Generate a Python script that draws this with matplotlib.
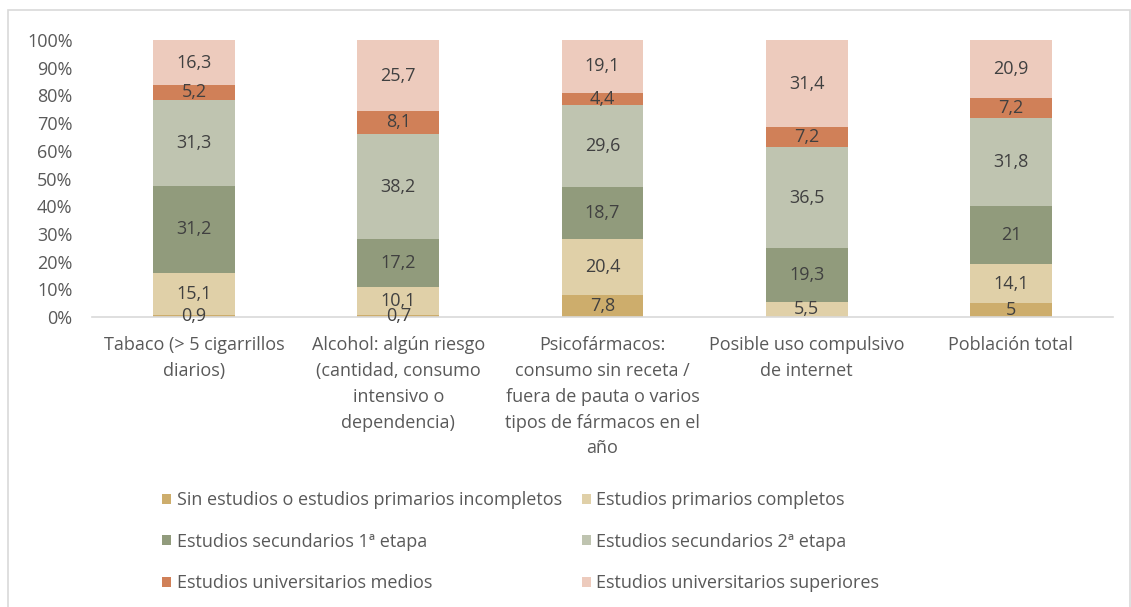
import matplotlib
matplotlib.use("Agg")
import matplotlib.pyplot as plt
from matplotlib.patches import Patch, Rectangle

plt.rcParams['font.family'] = ['Open Sans', 'DejaVu Sans']

categories = [
    "Tabaco (> 5 cigarrillos\ndiarios)",
    "Alcohol: algún riesgo\n(cantidad, consumo\nintensivo o\ndependencia)",
    "Psicofármacos:\nconsumo sin receta /\nfuera de pauta o varios\ntipos de fármacos en el\naño",
    "Posible uso compulsivo\nde internet",
    "Población total",
]
series_names = [
    "Sin estudios o estudios primarios incompletos",
    "Estudios primarios completos",
    "Estudios secundarios 1ª etapa",
    "Estudios secundarios 2ª etapa",
    "Estudios universitarios medios",
    "Estudios universitarios superiores",
]
sin_estudios = [0.9, 0.7, 7.8, 0.0, 5]
primarios = [15.1, 10.1, 20.4, 5.5, 14.1]
secundarios_1 = [31.2, 17.2, 18.7, 19.3, 21]
secundarios_2 = [31.3, 38.2, 29.6, 36.5, 31.8]
univ_medios = [5.2, 8.1, 4.4, 7.2, 7.2]
univ_superiores = [16.3, 25.7, 19.1, 31.4, 20.9]
series_values = [sin_estudios, primarios, secundarios_1, secundarios_2, univ_medios, univ_superiores]
colors = ["#CDAD6C", "#E0D0A8", "#919B7C", "#BFC4B0", "#D08058", "#EDCBBD"]
y_ticks = [0, 10, 20, 30, 40, 50, 60, 70, 80, 90, 100]

FS = 13
W, H = 1131, 607
fig = plt.figure(figsize=(W / 100, H / 100), dpi=100)
ax = fig.add_axes([92 / W, 1 - 317 / H, (1113 - 92) / W, (317 - 40) / H])

x = list(range(len(categories)))
bottom = [0.0] * len(categories)
for name, vals, col in zip(series_names, series_values, colors):
    bars = ax.bar(x, vals, width=0.4, bottom=bottom, color=col, label=name, zorder=2)
    labels = [("" if v == 0 else f"{v:g}".replace(".", ",")) for v in vals]
    ax.bar_label(bars, labels=labels, label_type="center", fontsize=FS, color="#404040")
    bottom = [b + v for b, v in zip(bottom, vals)]

ax.set_xlim(-0.5, len(categories) - 0.5)
ax.set_ylim(0, 100)
ax.set_yticks(y_ticks)
ax.set_yticklabels([f"{t}%" for t in y_ticks])
ax.set_xticks(x)
ax.set_xticklabels(categories, linespacing=1.55)
ax.tick_params(axis="both", length=0, labelsize=FS, labelcolor="#595959")
ax.tick_params(axis="y", pad=14)
ax.tick_params(axis="x", pad=14)
for side in ["top", "right", "left"]:
    ax.spines[side].set_visible(False)
ax.spines["bottom"].set_color("#D9D9D9")
ax.spines["bottom"].set_linewidth(1.2)

handles = [Patch(facecolor=c, edgecolor="none") for c in colors]
order = [0, 2, 4, 1, 3, 5]
leg = fig.legend([handles[i] for i in order], [series_names[i] for i in order],
                 ncol=2, loc="upper left", bbox_to_anchor=(155 / W, 1 - 484 / H),
                 frameon=False, fontsize=FS, labelcolor="#595959",
                 handlelength=0.5, handleheight=0.5, handletextpad=0.3,
                 labelspacing=1.3, columnspacing=1.1, borderaxespad=0)

fig.patches.append(Rectangle((8 / W, -0.01), (1130 - 8) / W, 1 - 10 / H + 0.01,
                             transform=fig.transFigure, fill=False,
                             edgecolor="#D9D9D9", linewidth=1.2))

fig.savefig("out.png", dpi=100)
